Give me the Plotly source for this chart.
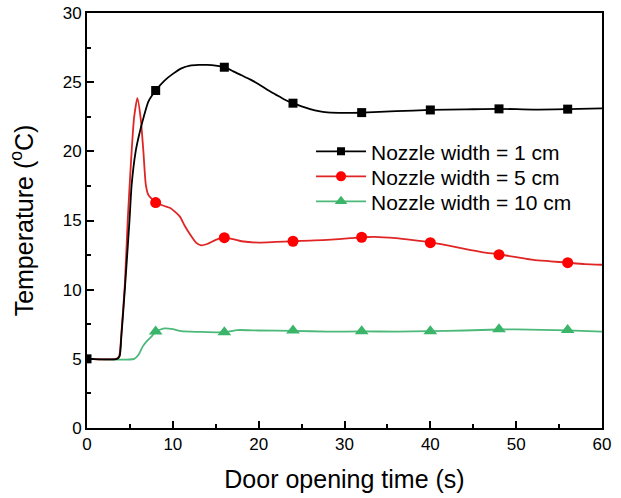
import plotly.graph_objects as go

# ---- data ----
t_black = [0, 3.5, 3.8, 4.0, 4.43, 4.95, 5.2, 5.67, 6.0, 6.57, 7.15, 8, 9, 10, 11, 12, 13, 14, 15, 16,
           17, 18, 19, 20, 21, 22, 23, 24, 25, 26, 27, 28, 30, 32, 36, 40, 44, 48, 52, 56, 60]
y_black = [5, 5, 5.2, 6.6, 10.2, 15.0, 17.57, 20.0, 21.0, 22.4, 23.6, 24.4, 25.1, 25.6, 26.0, 26.2, 26.25, 26.25, 26.2, 26.08,
           25.8, 25.5, 25.2, 24.85, 24.45, 24.1, 23.75, 23.48, 23.25, 23.05, 22.9, 22.82, 22.78, 22.8, 22.9, 22.99, 23.03, 23.07, 23.02, 23.05, 23.1]

t_red = [0, 3.4, 3.75, 4.0, 4.4, 4.75, 5.2, 5.48, 5.87, 6.25, 6.57, 6.85, 7.15, 8, 9, 9.7, 10.8, 11.4, 12, 12.7, 13.3,
         14, 15, 16, 17, 18, 20, 22, 24, 26, 28, 30.7, 32, 33.5, 36, 38, 40, 42, 44, 46, 48, 50, 52, 54, 56, 58, 60]
y_red = [5, 5, 5.2, 6.8, 10.3, 15.1, 20.0, 22.4, 23.84, 22.4, 20.0, 17.6, 16.85, 16.3, 16.05, 15.9, 15.3, 14.6, 14.0, 13.4, 13.2,
         13.3, 13.6, 13.76, 13.65, 13.5, 13.4, 13.45, 13.5, 13.55, 13.6, 13.72, 13.79, 13.82, 13.72, 13.58, 13.42, 13.2, 12.95, 12.72, 12.55, 12.35, 12.15, 12.05, 11.95, 11.85, 11.8]

t_green = [0, 5.5, 6.0, 6.5, 7.0, 7.5, 8, 9, 10, 11, 13, 16, 17.5, 20, 24, 28, 32, 36, 40, 44, 48, 50, 53, 56, 60]
y_green = [5, 5, 5.3, 5.9, 6.3, 6.6, 6.97, 7.2, 7.15, 7.0, 6.95, 6.92, 7.08, 7.05, 7.02, 6.97, 6.98, 6.97, 7.0, 7.05, 7.12, 7.13, 7.1, 7.06, 6.96]

mk_t_black = [0, 8, 16, 24, 32, 40, 48, 56]
mk_y_black = [5, 24.4, 26.08, 23.48, 22.8, 22.99, 23.07, 23.05]
mk_t_red = [8, 16, 24, 32, 40, 48, 56]
mk_y_red = [16.3, 13.76, 13.5, 13.79, 13.4, 12.53, 11.95]
mk_t_green = [8, 16, 24, 32, 40, 48, 56]
mk_y_green = [6.97, 6.92, 7.04, 7.0, 7.0, 7.13, 7.08]

names = ["Nozzle width = 1 cm", "Nozzle width = 5 cm", "Nozzle width = 10 cm"]

FONT = "Liberation Sans, Arial, sans-serif"
# (line x, line y, marker x, marker y, name, line colour, marker colour, symbol, size, legend id)
series = [
    (t_green, y_green, mk_t_green, mk_y_green, names[2], "#4cb97a", "#3bb56a", "triangle-up", 12, "legend3"),
    (t_red, y_red, mk_t_red, mk_y_red, names[1], "#e02525", "#ff0000", "circle", 11, "legend2"),
    (t_black, y_black, mk_t_black, mk_y_black, names[0], "#000000", "#000000", "square", 9, "legend"),
]

fig = go.Figure()
for tl, yl, tm, ym, name, lc, mc, sym, ms, lg in series:
    fig.add_trace(go.Scatter(x=tl, y=yl, mode="lines", line=dict(color=lc, width=1.8, shape="spline", smoothing=0.6),
                             showlegend=False, hoverinfo="skip"))
    fig.add_trace(go.Scatter(x=tm, y=ym, mode="markers", marker=dict(color=mc, symbol=sym, size=ms),
                             showlegend=False))
    fig.add_trace(go.Scatter(x=[None], y=[None], mode="lines+markers", name=name, legend=lg,
                             line=dict(color=lc, width=1.8), marker=dict(color=mc, symbol=sym, size=ms - 1)))

axis_common = dict(showgrid=False, zeroline=False, showline=True, linecolor="black", linewidth=2,
                   mirror=True, ticks="inside", ticklen=7, tickwidth=1.5, tickcolor="black", automargin=False,
                   tickfont=dict(family=FONT, size=17, color="black"))

fig.update_xaxes(range=[0, 60], dtick=10, tick0=0,
                 minor=dict(ticks="inside", ticklen=4, tickwidth=1.5, tickcolor="black", dtick=5),
                 title=dict(text="Door opening time (s)", font=dict(family=FONT, size=25, color="black"), standoff=17),
                 **axis_common)
fig.update_yaxes(range=[0, 30], dtick=5, tick0=0,
                 minor=dict(ticks="inside", ticklen=4, tickwidth=1.5, tickcolor="black", dtick=2.5),
                 title=dict(text="Temperature (<sup>o</sup>C)", font=dict(family=FONT, size=25, color="black"), standoff=22),
                 **axis_common)

leg_common = dict(x=0.435, xanchor="left", yanchor="middle", bgcolor="rgba(0,0,0,0)",
                  font=dict(family=FONT, size=21, color="black"), itemwidth=50)

fig.update_layout(
    width=621, height=498,
    margin=dict(l=87, r=19, t=13, b=70),
    paper_bgcolor="white", plot_bgcolor="white",
    font=dict(family=FONT, color="black"),
    legend=dict(y=0.6658, **leg_common),
    legend2=dict(y=0.6055, **leg_common),
    legend3=dict(y=0.5453, **leg_common),
)

fig.write_html("out.html", config={"displayModeBar": False},
               post_script="document.body.style.margin='0';document.body.style.overflow='hidden';")
